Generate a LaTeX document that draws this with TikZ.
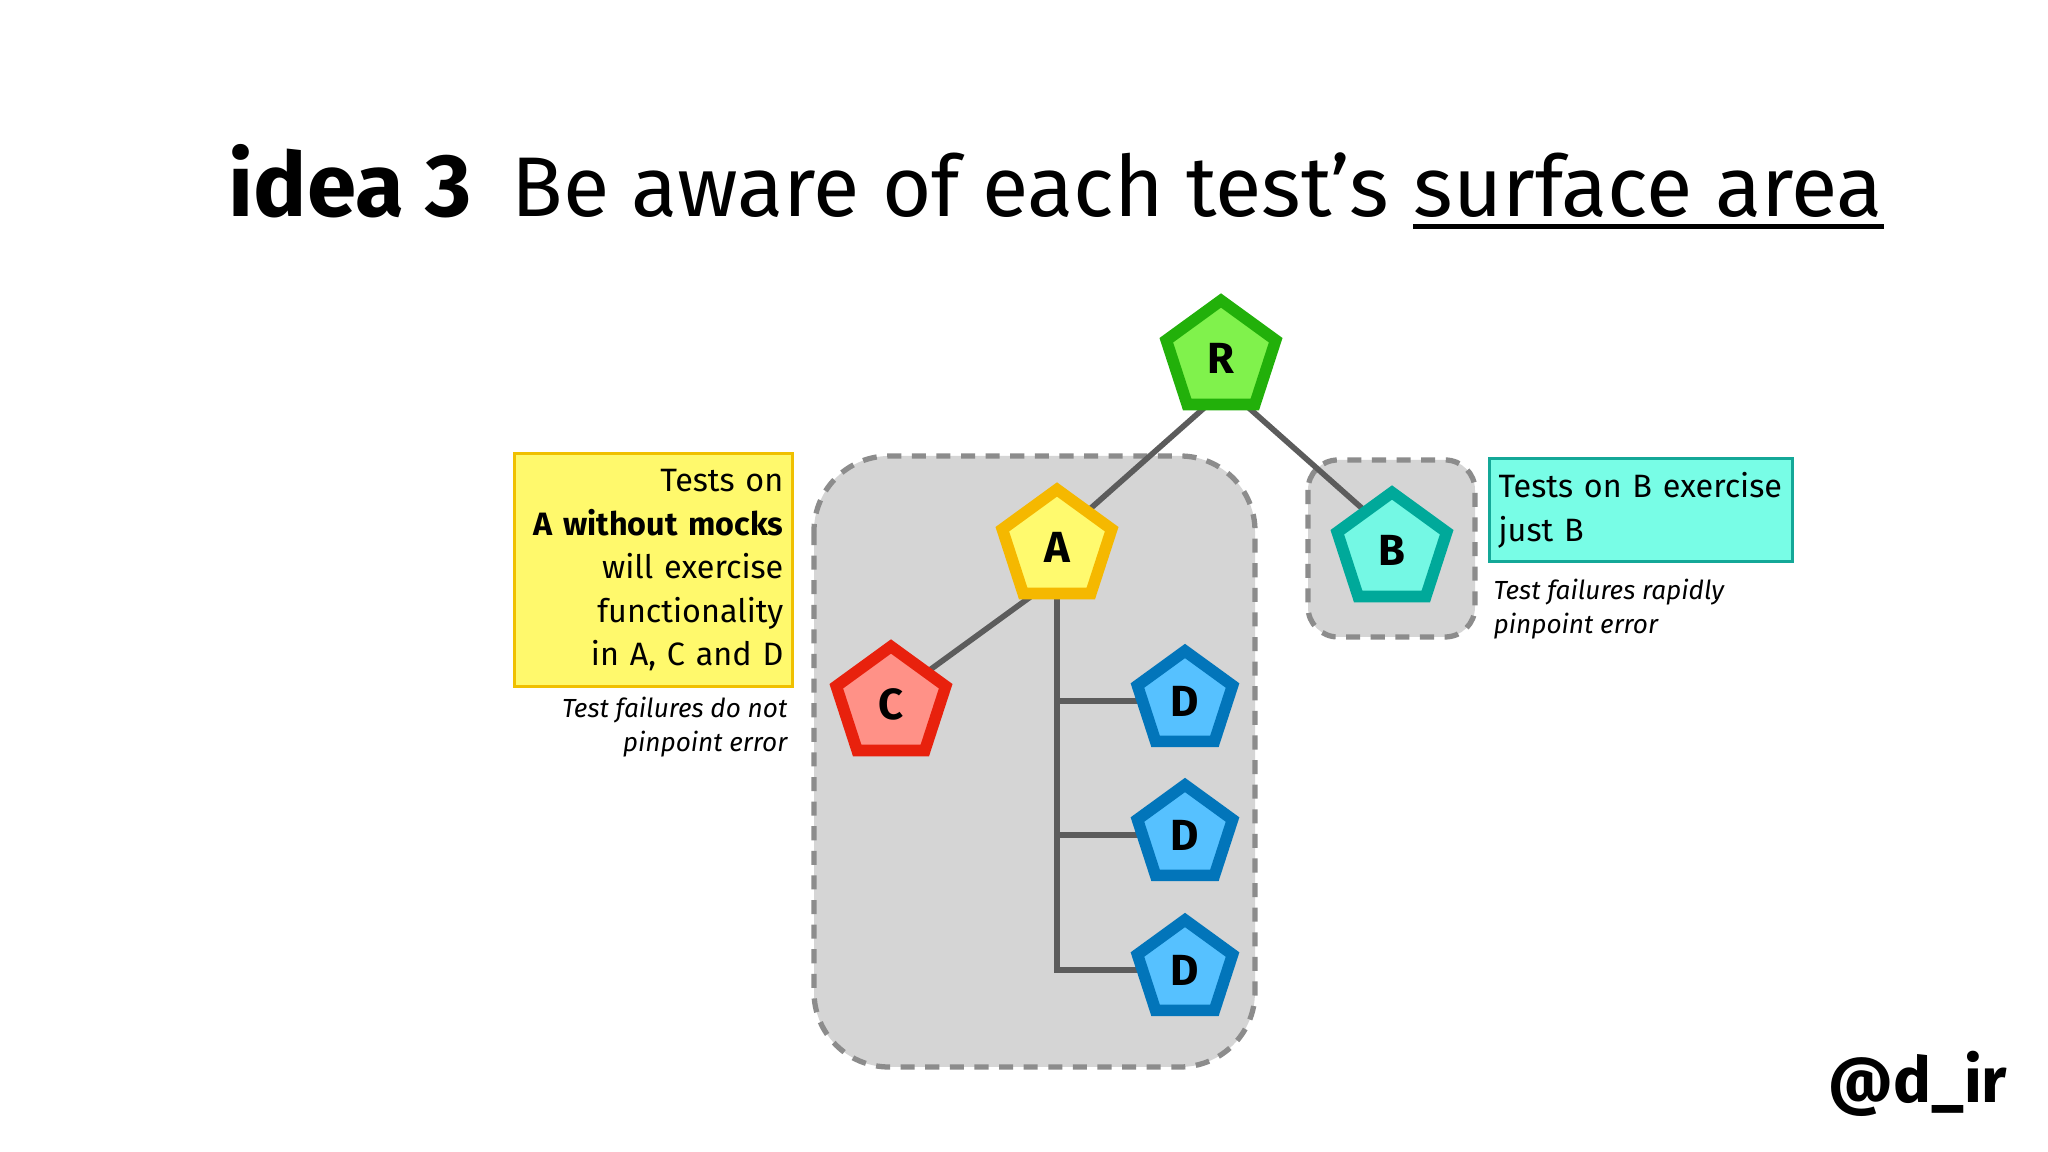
\documentclass[tikz,border=0pt]{standalone}
\usepackage{fontspec}
\setmainfont{Fira Sans}
\usetikzlibrary{shapes.geometric,backgrounds}
\definecolor{rfill}{HTML}{80F24C}
\definecolor{rline}{HTML}{22B00A}
\definecolor{afill}{HTML}{FFFA6E}
\definecolor{aline}{HTML}{F5B800}
\definecolor{cfill}{HTML}{FF9187}
\definecolor{cline}{HTML}{E8210D}
\definecolor{dfill}{HTML}{56C1FF}
\definecolor{dline}{HTML}{0275BA}
\definecolor{bfill}{HTML}{74F8E4}
\definecolor{bline}{HTML}{00A99A}
\definecolor{notey}{HTML}{FFF96C}
\definecolor{noteyline}{HTML}{F0C000}
\definecolor{notet}{HTML}{78FDE6}
\definecolor{notetline}{HTML}{14A898}
\definecolor{boxgrey}{HTML}{D5D5D5}
\definecolor{dashgrey}{HTML}{8C8C8C}
\definecolor{linkgrey}{HTML}{5C5C5C}
\begin{document}
\begin{tikzpicture}[
 pent/.style={regular polygon,regular polygon sides=5,minimum size=1.15cm,inner sep=0pt,outer sep=0pt,line width=3.3pt,font=\bfseries\fontsize{12.4}{12.4}\selectfont},
 smallpent/.style={pent,minimum size=1.0cm,fill=dfill,draw=dline},
 link/.style={draw=linkgrey,line width=1.6pt},
 groupbox/.style={fill=boxgrey,draw=dashgrey,line width=1.5pt,dash pattern=on 4pt off 3pt},
 note/.style={line width=0.95pt,inner ysep=0pt,inner xsep=0.09cm,font=\fontsize{9.2}{12.38}\selectfont},
 caption/.style={inner sep=0pt,font=\itshape\fontsize{7.45}{9.7}\selectfont}]
 \useasboundingbox (0,0) rectangle (20.48,11.52);
 \begin{scope}[on background layer]
  \fill[white] (0,0) rectangle (20.48,11.52);
  \draw[groupbox,rounded corners=0.75cm] (8.14,6.96) rectangle (12.55,0.85);
  \draw[groupbox,rounded corners=0.3cm] (13.08,6.92) rectangle (14.75,5.15);
 \end{scope}
 \node[anchor=base west,inner sep=0pt,font=\bfseries\fontsize{25.3}{28}\selectfont] (idea) at (2.28,9.35) {idea 3};
 \node[anchor=base west,font=\fontsize{24.1}{28}\selectfont,inner sep=0pt] (heading) at (5.11,9.35) {Be aware of each test’s};
 \node[anchor=base west,font=\fontsize{24.1}{28}\selectfont,inner sep=0pt] (surface) at (14.13,9.35) {surface area};
 \draw[line width=1.4pt] ([yshift=-0.095cm]surface.base west) -- ([yshift=-0.095cm]surface.base east);
 \node[pent,fill=rfill,draw=rline] (R) at (12.21,7.94) {R};
 \node[pent,fill=afill,draw=aline] (A) at (10.57,6.05) {A};
 \node[pent,fill=bfill,draw=bline] (B) at (13.92,6.02) {B};
 \node[pent,fill=cfill,draw=cline] (C) at (8.91,4.48) {C};
 \node[smallpent] (D1) at (11.85,4.51) {D};
 \node[smallpent] (D2) at (11.85,3.17) {D};
 \node[smallpent] (D3) at (11.85,1.82) {D};
 \node[note,fill=notey,draw=noteyline,anchor=north east,text width=2.6cm,align=right,minimum height=2.33cm] (noteA) at (7.94,7.00) {Tests on\\\textbf{A without mocks}\\will exercise\\functionality\\in A, C and D};
 \node[caption,anchor=north east,align=right] (failA) at (7.88,4.56) {Test failures do not\\pinpoint error};
 \node[note,fill=notet,draw=notetline,anchor=north west,text width=2.85cm,align=left,minimum height=1.03cm] (noteB) at (14.88,6.95) {Tests on B exercise\\just B};
 \node[caption,anchor=north west,align=left] (failB) at (14.93,5.74) {Test failures rapidly\\pinpoint error};
 \node[anchor=base east,inner sep=0pt,font=\bfseries\fontsize{18}{20}\selectfont] (handle) at (20.08,0.49) {@d\_ir};
 \begin{scope}[on background layer]
  \draw[link] ([xshift=-1.3mm]R.side 3) -- ([xshift=-1mm]A.center);
  \draw[link] ([xshift=2.4mm]R.side 3) -- ([xshift=1.7mm]B.center);
  \draw[link] ([xshift=-2.2mm]A.side 3) -- ([xshift=-0.8mm]C.center);
  \draw[link] (A.side 3) |- (D3.center);
  \foreach \d in {D1,D2}
   \draw[link] (A.side 3 |- \d.center) -- (\d.center);
 \end{scope}
\end{tikzpicture}
\end{document}
